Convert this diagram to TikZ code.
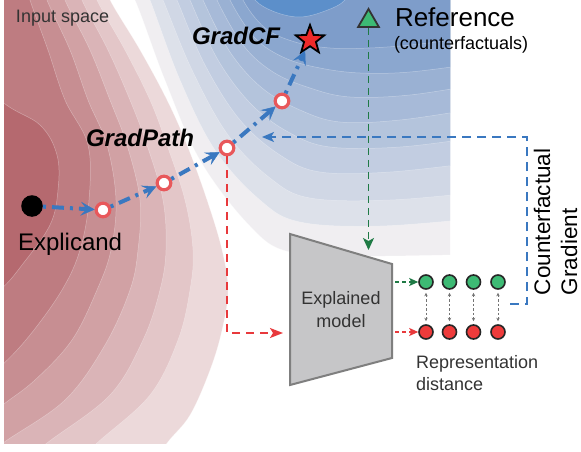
\documentclass[tikz,border=0pt]{standalone}
\usepackage{fontspec}
\setmainfont{Liberation Sans}
\usetikzlibrary{arrows.meta,shapes.geometric}
\definecolor{rlight}{HTML}{ECD9DA}
\definecolor{rdark}{HTML}{B5696F}
\definecolor{blight}{HTML}{DDE1EA}
\definecolor{bdark}{HTML}{7E9DCA}
\definecolor{bzero}{HTML}{F0EEF1}
\definecolor{bcore}{HTML}{5C8FCA}
\definecolor{pathblue}{HTML}{3A78C0}
\definecolor{ringred}{HTML}{E8585B}
\definecolor{lred}{HTML}{E8393C}
\definecolor{dgreen}{HTML}{1F7A45}
\definecolor{cgreen}{HTML}{3DBA74}
\definecolor{cred}{HTML}{EE3B3B}
\definecolor{starred}{HTML}{EE2A2A}
\definecolor{modelfill}{HTML}{C6C6C8}
\definecolor{modeldraw}{HTML}{7F7F7F}
\definecolor{txtgray}{HTML}{333333}
\newcommand\redlevel[2]{\fill[rdark!#1!rlight, draw=white, draw opacity=.35, line width=.5pt] (-80,-40) -- plot[smooth,tension=.6] coordinates {#2} -- (-80,480) -- cycle;}
\newcommand\bluelevel[2]{\fill[#1, draw=white, draw opacity=.35, line width=.5pt] plot[smooth,tension=.6] coordinates {#2} -- (480,-40) -- cycle;}
\newcommand\fs[1]{\fontsize{#1pt}{#1pt}\selectfont}
\begin{document}
\begin{tikzpicture}[x=1pt,y=-1pt,
  ring/.style={circle, draw=ringred, line width=3.2pt, fill=white, minimum size=13.6pt, inner sep=0pt},
  gpath/.style={draw=pathblue, line width=4pt, dash pattern=on 3pt off 6pt on 12pt off 6pt, -{Stealth[length=14pt,width=14pt,inset=6pt,line width=0.5pt]}},
  feat/.style={circle, draw=black!85, line width=1.6pt, minimum size=14pt, inner sep=0pt},
  lbl/.style={inner sep=0pt, outer sep=0pt},
  gline/.style={draw=dgreen, line width=1.6pt, dash pattern=on 7pt off 5pt, -{Stealth[length=12pt,width=11pt,inset=3pt]}},
  rline/.style={draw=lred, line width=1.6pt, dash pattern=on 8pt off 6pt, -{Stealth[length=13pt,width=10pt,inset=3pt]}},
  bline/.style={draw=pathblue, line width=1.6pt, dash pattern=on 9pt off 6pt, -{Stealth[length=12pt,width=10pt,inset=3pt]}},
  shortg/.style={draw=dgreen, line width=1.6pt, dash pattern=on 4pt off 3pt, -{Stealth[length=9pt,width=8pt,inset=2pt]}},
  shortr/.style={draw=lred, line width=1.6pt, dash pattern=on 4pt off 3pt, -{Stealth[length=9pt,width=8pt,inset=2pt]}},
  dist/.style={draw=black!55, line width=0.7pt, dash pattern=on 2.5pt off 2pt, {Stealth[length=3.5pt,width=3.5pt]}-{Stealth[length=3.5pt,width=3.5pt]}, shorten >=3pt, shorten <=3pt},
]
\useasboundingbox (0,0) rectangle (581,452);
\fill[white] (0,0) rectangle (581,452);
% ---------- contour background ----------
\begin{scope}
\clip (4,0) rectangle (450,443);
\redlevel{0}{(105,-20) (110,0) (140,50) (167,100) (187,145) (207,200) (222,250) (228,290) (222,330) (210,370) (190,415) (167,443) (150,470)}
\redlevel{17}{(93,-20) (97,0) (125,50) (150,100) (167,145) (185,200) (193,250) (190,290) (178,340) (150,395) (97,443) (70,470)}
\redlevel{33}{(78,-20) (82,0) (108,50) (130,100) (147,145) (163,200) (166,250) (160,290) (143,340) (110,395) (47,443) (15,470)}
\redlevel{50}{(61,-20) (65,0) (90,50) (110,100) (127,145) (140,200) (138,250) (130,290) (105,345) (65,400) (3,443) (-30,470)}
\redlevel{67}{(43,-20) (47,0) (70,50) (88,100) (107,145) (116,200) (111,250) (97,290) (72,340) (35,380) (0,407) (-40,440)}
\redlevel{83}{(26,-20) (30,0) (48,50) (65,100) (88,145) (89,200) (80,250) (62,290) (30,335) (0,367) (-40,400)}
\redlevel{100}{(-60,40) (0,100) (40,125) (57,155) (58,190) (50,225) (22,265) (0,290) (-40,320)}
\bluelevel{bzero}{(120,-20) (135,0) (165,80) (200,160) (250,226) (290,252) (370,256) (480,254)}
\bluelevel{bdark!0!blight}{(140,-20) (150,0) (180,80) (215,150) (260,200) (300,222) (380,226) (480,218)}
\bluelevel{bdark!14!blight}{(154,-20) (163,0) (192,70) (228,135) (270,178) (310,198) (390,200) (480,192)}
\bluelevel{bdark!29!blight}{(169,-20) (177,0) (205,65) (240,120) (280,155) (320,172) (390,172) (480,162)}
\bluelevel{bdark!43!blight}{(183,-20) (190,0) (218,60) (252,105) (290,133) (330,147) (400,147) (480,137)}
\bluelevel{bdark!57!blight}{(197,-20) (203,0) (230,52) (262,88) (300,110) (340,122) (400,120) (480,108)}
\bluelevel{bdark!71!blight}{(212,-20) (217,0) (243,45) (273,72) (310,88) (350,97) (410,95) (480,84)}
\bluelevel{bdark!86!blight}{(226,-20) (230,0) (255,38) (285,58) (320,68) (360,73) (410,72) (480,63)}
\bluelevel{bdark}{(240,-20) (243,0) (265,28) (295,42) (330,48) (370,48) (420,44) (480,36)}
\fill[bcore, draw=white, draw opacity=.35, line width=.5pt] plot[smooth,tension=.6] coordinates {(246,-20) (255,0) (275,12) (300,17) (325,11) (345,0) (352,-20)} -- cycle;
\end{scope}
% ---------- labels in input space ----------
\node[lbl, anchor=base west, text=txtgray, font=\fs{18}] (inp) at (16,23) {Input space};
\node[lbl, anchor=base west, font=\fs{24}\bfseries\itshape] (gp) at (86,146) {GradPath};
\node[lbl, anchor=base west, font=\fs{24}\bfseries\itshape] (gcf) at (192,45) {GradCF};
\node[lbl, anchor=base west, font=\fs{24}] (expt) at (18,250) {Explicand};
\node[lbl, anchor=base west, font=\fs{26}] (reft) at (395,27) {Reference};
\node[lbl, anchor=base west, font=\fs{18}] (refs) at (394,50) {(counterfactuals)};
% ---------- path nodes ----------
\node[circle, fill=black, minimum size=21.6pt, inner sep=0pt] (expl) at (32,206) {};
\node[ring] (c1) at (103,210) {};
\node[ring] (c2) at (164,183) {};
\node[ring] (c3) at (227,148) {};
\node[ring] (c4) at (282,101) {};
\node[star, star points=5, star point ratio=2.4, minimum size=30pt, inner sep=0pt, fill=starred, draw=black, line width=1.8pt] (cf) at (310,40) {};
\node[regular polygon, regular polygon sides=3, minimum size=24pt, inner sep=0pt, fill=cgreen, draw=black!80, line width=1.8pt] (tri) at (368.5,21) {};
% ---------- model ----------
\coordinate (mTL) at (290,234);
\coordinate (mTR) at (392,264);
\coordinate (mBR) at (392,358);
\coordinate (mBL) at (290,385);
\draw[fill=modelfill, draw=modeldraw, line width=2pt] (mTL) -- (mTR) -- (mBR) -- (mBL) -- cycle;
\node[lbl, anchor=base, text=txtgray, font=\fs{18}] (m1) at (341,304) {Explained};
\node[lbl, anchor=base, text=txtgray, font=\fs{18}] (m2) at (341,327) {model};
\coordinate (gin) at (368.5,250);
\coordinate (rin) at (283,333);
\coordinate (gout) at (395,282);
\coordinate (rout) at (395,332);
% ---------- features ----------
\foreach \i/\x in {1/426,2/449.5,3/473.5,4/498}{
  \node[feat, fill=cgreen] (g\i) at (\x,282) {};
  \node[feat, fill=cred] (r\i) at (\x,332) {};
  \draw[dist] (g\i) -- (r\i);
}
\node[lbl, anchor=base west, text=txtgray, font=\fs{18}] (rep1) at (416,368) {Representation};
\node[lbl, anchor=base west, text=txtgray, font=\fs{18}] (rep2) at (416,390) {distance};
\node[lbl, anchor=base west, rotate=90, font=\fs{22.5}] (cg1) at (550,295) {Counterfactual};
\node[lbl, anchor=base west, rotate=90, font=\fs{22.5}] (cg2) at (577,295) {Gradient};
% ---------- connectors ----------
\coordinate (fbA) at (510,304);
\coordinate (fbB) at (527,137);
\coordinate (fbEnd) at (262,137);
\draw[bline] (fbA) -| (fbB) -- (fbEnd);
\draw[gline] (tri.south) -- (gin);
\draw[rline] (c3.south) |- (rin);
\draw[shortg] (gout) -- (g1);
\draw[shortr] (rout) -- (r1);
\draw[gpath] (expl) -- (c1);
\draw[gpath] (c1) -- (c2);
\draw[gpath] (c2) -- (c3);
\draw[gpath] (c3) -- (c4);
\draw[gpath] (c4) -- (cf);
\end{tikzpicture}
\end{document}
